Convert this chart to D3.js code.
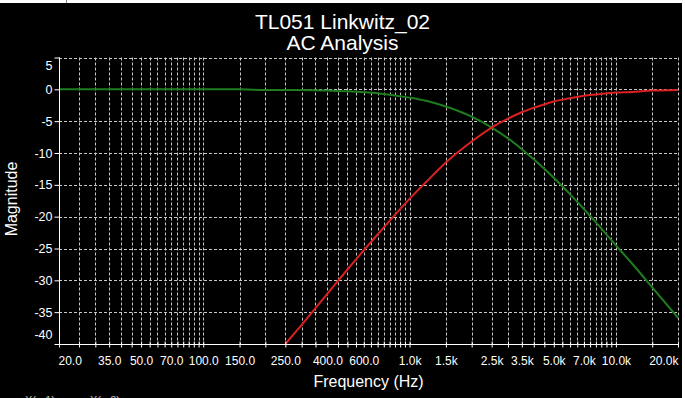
<!DOCTYPE html>
<html>
<head>
<meta charset="utf-8">
<script src="https://cdn.jsdelivr.net/npm/d3@7"></script>
<style>
  body { margin: 0; background: #fff; }
  svg { display: block; font-family: "Liberation Sans", Arial, sans-serif; }
</style>
</head>
<body>
<div class="board"></div>
<script>
// chart values
var titleLines = ['TL051 Linkwitz_02', 'AC Analysis'];

var greenFreq = [20, 50, 100, 150, 200, 300, 400, 500, 700, 1000, 1200, 1500, 2000, 2500,
                 3000, 3500, 4000, 5000, 6000, 7000, 8000, 10000, 12000, 15000, 20000];
var greenDb = [0, 0, 0, 0, -0.1, -0.1, -0.2, -0.3, -0.6, -1.3, -1.8, -2.7, -4.3, -6.0,
               -7.7, -9.4, -11.0, -13.9, -16.5, -18.8, -20.9, -24.5, -27.4, -31.1, -35.9];

var redFreq = [250, 300, 400, 500, 700, 1000, 1200, 1500, 2000, 2500, 3000, 3500, 4000,
               5000, 6000, 7000, 8000, 10000, 12000, 15000, 20000];
var redDb = [-40.0, -37.0, -32.1, -28.3, -22.8, -17.2, -14.6, -11.5, -8.2, -6.0, -4.6, -3.6,
             -2.9, -1.9, -1.4, -1.0, -0.8, -0.5, -0.4, -0.2, -0.1];

var xLabelValues = [20, 35, 50, 70, 100, 150, 250, 400, 600, 1000, 1500, 2500, 3500,
                    5000, 7000, 10000, 20000];
var xLabelText = ['20.0', '35.0', '50.0', '70.0', '100.0', '150.0', '250.0', '400.0', '600.0',
                  '1.0k', '1.5k', '2.5k', '3.5k', '5.0k', '7.0k', '10.0k', '20.0k'];
// grid steps per decade: [from, to, step]
var xGridSteps = [[20, 100, 5], [100, 1000, 50], [1000, 10000, 500], [10000, 20000, 5000]];
var yTicks = [5, 0, -5, -10, -15, -20, -25, -30, -35, -40];

var width = 685;
var height = 398;
var plotLeft = 59, plotRight = 678, plotTop = 57.5, plotBottom = 344;

var svg = d3.select('.board')
            .append('svg')
            .attr('width', width)
            .attr('height', height);

// window background
svg.append('rect')
   .attr('x', 0).attr('y', 3)
   .attr('width', 682).attr('height', height - 3)
   .style('fill', '#000');
svg.append('line')
   .attr('x1', 66.5).attr('x2', 66.5).attr('y1', 0).attr('y2', 3)
   .style('stroke', '#888');

var x = d3.scaleLog().domain([20, 20000]).range([plotLeft, plotRight]);
var y = d3.scaleLinear().domain([-40, 5]).range([plotBottom, plotTop]);

var xGrid = [];
xGridSteps.forEach(function(s) {
  d3.range(s[0], s[1], s[2]).forEach(function(v) { xGrid.push(v); });
});
xGrid.push(20000);

var crisp = function(v) { return Math.round(v) + 0.5; };

// dashed grid
svg.append('g').selectAll('line')
   .data(xGrid)
   .enter()
   .append('line')
   .attr('x1', function(d) { return crisp(x(d)); })
   .attr('x2', function(d) { return crisp(x(d)); })
   .attr('y1', plotTop)
   .attr('y2', plotBottom)
   .style('stroke', '#c8c8c8')
   .style('stroke-dasharray', '3,2');

svg.append('g').selectAll('line')
   .data(yTicks)
   .enter()
   .append('line')
   .attr('x1', plotLeft)
   .attr('x2', plotRight)
   .attr('y1', function(d) { return crisp(y(d)); })
   .attr('y2', function(d) { return crisp(y(d)); })
   .style('stroke', '#c8c8c8')
   .style('stroke-dasharray', '3,2');

// curves
svg.append('clipPath').attr('id', 'clip')
   .append('rect')
   .attr('x', plotLeft).attr('y', plotTop)
   .attr('width', plotRight - plotLeft).attr('height', plotBottom - plotTop);
var plot = svg.append('g').attr('clip-path', 'url(#clip)');

var line = d3.line()
             .x(function(d) { return x(d[0]); })
             .y(function(d) { return y(d[1]); })
             .curve(d3.curveMonotoneX);

plot.append('path')
    .datum(d3.zip(greenFreq, greenDb))
    .attr('d', line)
    .style('fill', 'none')
    .style('stroke', '#1f7d1f')
    .style('stroke-width', 2);

plot.append('path')
    .datum(d3.zip(redFreq, redDb))
    .attr('d', line)
    .style('fill', 'none')
    .style('stroke', '#dc2020')
    .style('stroke-width', 2);

// x axis
var xAxis = d3.axisBottom(x)
              .tickValues(xGrid)
              .tickSize(3)
              .tickFormat(function(d) {
                var i = xLabelValues.indexOf(d);
                return i < 0 ? '' : xLabelText[i];
              });
var gx = svg.append('g')
            .attr('transform', 'translate(0,' + crisp(plotBottom) + ')')
            .call(xAxis);
gx.select('.domain').attr('d', 'M' + plotLeft + ',0H' + (plotRight + 0.5)).style('stroke', '#fff');
gx.selectAll('.tick line').attr('y1', -3).attr('y2', 3).style('stroke', '#fff');
gx.selectAll('.tick text')
  .attr('y', 12)
  .style('fill', '#fff')
  .style('font-size', '12px')
  .style('font-family', '"Liberation Sans", Arial, sans-serif')
  .attr('text-anchor', function(d) {
    if (d === 20) return 'start';
    if (d === 20000) return 'end';
    return 'middle';
  })
  .attr('dx', function(d) { return d === 20 ? -1 : 0; });

// y axis
var yAxis = d3.axisLeft(y)
              .tickValues(yTicks)
              .tickSize(5)
              .tickPadding(2)
              .tickFormat(function(d) { return String(d); });
var gy = svg.append('g')
            .attr('transform', 'translate(' + crisp(plotLeft) + ',0)')
            .call(yAxis);
gy.select('.domain').attr('d', 'M0,' + plotTop + 'V' + plotBottom).style('stroke', '#fff');
gy.selectAll('.tick line').style('stroke', '#fff');
gy.selectAll('.tick text')
  .style('fill', '#fff')
  .style('font-size', '12.5px')
  .style('font-family', '"Liberation Sans", Arial, sans-serif')
  .attr('dy', function(d) {
    if (d === 5) return '0.95em';
    if (d === -40) return '-0.45em';
    return '0.32em';
  });

// titles
svg.selectAll('.title')
   .data(titleLines)
   .enter()
   .append('text')
   .attr('class', 'title')
   .attr('x', width / 2)
   .attr('y', function(d, i) { return 29 + i * 21; })
   .attr('text-anchor', 'middle')
   .style('fill', '#fff')
   .style('font-size', '21px')
   .text(function(d) { return d; });

svg.append('text')
   .attr('x', (plotLeft + plotRight) / 2)
   .attr('y', 387)
   .attr('text-anchor', 'middle')
   .style('fill', '#fff')
   .style('font-size', '16px')
   .text('Frequency (Hz)');

svg.append('text')
   .attr('transform', 'translate(17,199) rotate(-90)')
   .attr('text-anchor', 'middle')
   .style('fill', '#fff')
   .style('font-size', '16px')
   .text('Magnitude');

// cut-off readout at the bottom edge
svg.selectAll('.readout')
   .data(['X(m1)', 'X(m2)'])
   .enter()
   .append('text')
   .attr('class', 'readout')
   .attr('x', function(d, i) { return 25 + i * 65; })
   .attr('y', 404)
   .style('fill', '#bbb')
   .style('font-size', '11px')
   .text(function(d) { return d; });
</script>
</body>
</html>
